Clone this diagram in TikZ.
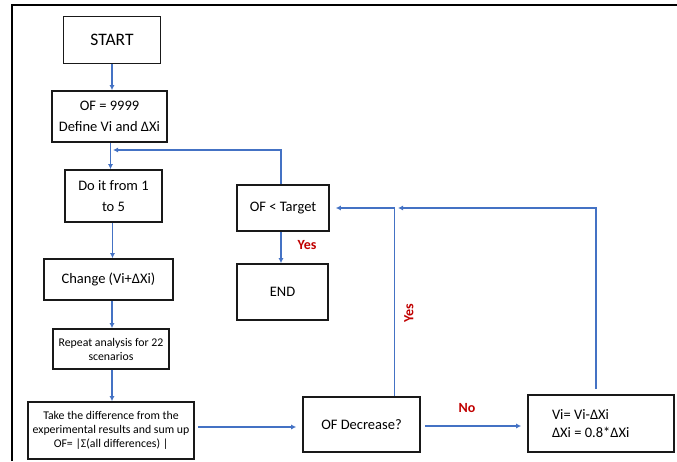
\documentclass[tikz,border=0pt]{standalone}
\usepackage{fontspec}
\setmainfont{Carlito}
\usetikzlibrary{arrows.meta,positioning}
\definecolor{flowblue}{HTML}{4472C4}
\definecolor{flowred}{HTML}{C00000}

\begin{document}
\begin{tikzpicture}[
      x=1pt,y=-1pt,
      box/.style={rectangle,draw=black!90,line width=1.6pt,align=center,inner sep=2pt,font=\fontsize{14.5}{17}\selectfont},
      tallbox/.style={box,font=\fontsize{14.5}{21.5}\selectfont},
      smallbox/.style={box,font=\fontsize{11.8}{14}\selectfont},
      arrow/.style={-{Latex[length=5pt,width=5pt]},draw=flowblue,line width=1.3pt},
      answer/.style={text=flowred,font=\fontsize{14}{16}\selectfont\bfseries}
    ]
    \useasboundingbox (0,0) rectangle (677,461);
    \draw[line width=2pt] (12,461) -- (12,5) -- (677,5);
    % left column
    \node[box,minimum width=97,minimum height=47,font=\fontsize{17.5}{20}\selectfont] (start) at (112,40) {START};
    \node[tallbox,minimum width=115,minimum height=51] (init) at (109.5,116.5) {OF = 9999\\Define Vi and ΔXi};
    \node[tallbox,minimum width=97,minimum height=52] (loop) at (113.5,196) {Do it from 1\\to 5};
    \node[box,minimum width=129,minimum height=41] (change) at (108.5,279.5) {Change (Vi+ΔXi)};
    \node[smallbox,minimum width=116,minimum height=40] (repeat) at (111,349) {Repeat analysis for 22\\scenarios};
    \node[smallbox,minimum width=166,minimum height=57] (diff) at (111,430.5) {Take the difference from the\\experimental results and sum up\\OF= |Σ(all differences) |};
    % right part
    \node[box,minimum width=92,minimum height=46] (target) at (283,208) {OF < Target};
    \node[box,minimum width=91,minimum height=56] (end) at (282.5,292) {END};
    \node[box,minimum width=117,minimum height=55] (decrease) at (361.5,424.5) {OF Decrease?};
    \node[box,minimum width=146,minimum height=57,align=flush left,text width=98,font=\fontsize{14.5}{18}\selectfont] (update) at (601,423.5) {Vi= Vi-ΔXi\\ΔXi = 0.8*ΔXi};
    \node[answer] (yesend) at (307,245) {Yes};
    \node[answer,rotate=90] (yesdec) at (409,313) {Yes};
    \node[answer] (no) at (467,408) {No};
    \coordinate (back) at (113,150);
    \coordinate (merge) at (398,208);
    \draw[arrow] (start.south) -- (start.south |- init.north);
    \draw[arrow] ([xshift=1]init.south) -- ([xshift=1]init.south |- loop.north);
    \draw[arrow] ([xshift=-1]loop.south) -- ([xshift=-1]loop.south |- change.north);
    \draw[arrow] ([xshift=1]repeat.north |- change.south) -- ([xshift=1]repeat.north);
    \draw[arrow] ([xshift=1]repeat.south) -- ([xshift=1]repeat.south |- diff.north);
    \draw[arrow] ([xshift=3,yshift=3.5]diff.east) -- ([xshift=-6,yshift=-2.5]decrease.west);
    \draw[arrow] ([xshift=4,yshift=-1.5]decrease.east) -- ([xshift=-6,yshift=-2.5]update.west);
    \draw[arrow] ([xshift=33]decrease.north) |- ([xshift=6]target.east);
    \draw[arrow] ([xshift=-5,yshift=5]update.north) |- (merge);
    \draw[arrow] ([xshift=-2]target.north) |- (back);
    \draw[arrow] ([xshift=-2]target.south) -- ([xshift=-2]target.south |- end.north);
  \end{tikzpicture}
\end{document}
